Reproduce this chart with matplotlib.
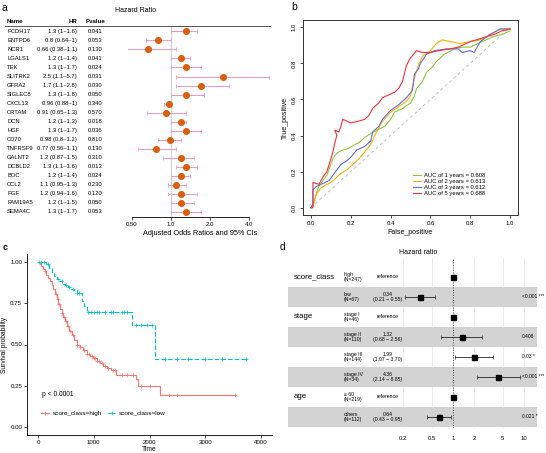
import numpy as np
import matplotlib
matplotlib.use("Agg")
import matplotlib.pyplot as plt
import matplotlib.transforms as mtransforms
from matplotlib.lines import Line2D
from matplotlib.ticker import NullLocator

plt.rcParams['font.family'] = ['Liberation Sans', 'DejaVu Sans']

W, H = 546, 453

# ---------------- panel a: univariate cox table
genes = ['PCDH17', 'ENTPD6', 'NCR1', 'LGALS1', 'TEK', 'SLITRK2', 'GFRA2', 'SIGLEC8',
         'CXCL13', 'CRTAM', 'DCN', 'HGF', 'CD70', 'TNFRSF9', 'GALNT2', 'DCBLD2',
         'BOC', 'CCL2', 'PGF', 'FAM19A5', 'SEMA4C']
hr = [1.3, 0.8, 0.66, 1.2, 1.3, 2.5, 1.7, 1.3, 0.96, 0.91, 1.2, 1.3, 0.98, 0.77,
      1.2, 1.3, 1.2, 1.1, 1.2, 1.2, 1.3]
hr_lo = [1, 0.64, 0.38, 1, 1, 1.1, 1.1, 1, 0.88, 0.65, 1, 1, 0.8, 0.56,
         0.87, 1.1, 1, 0.95, 0.94, 1, 1]
hr_hi = [1.6, 1, 1.1, 1.4, 1.7, 5.7, 2.8, 1.8, 1, 1.3, 1.3, 1.7, 1.2, 1.1,
         1.5, 1.6, 1.4, 1.3, 1.6, 1.5, 1.7]
pvals = ['0.041', '0.053', '0.130', '0.041', '0.024', '0.031', '0.030', '0.050',
         '0.340', '0.570', '0.018', '0.036', '0.810', '0.130', '0.310', '0.013',
         '0.024', '0.230', '0.120', '0.050', '0.053']

# ---------------- panel b: ROC curves
fpr_1y = [0, 0.01, 0.02, 0.03, 0.04, 0.06, 0.08, 0.09, 0.11, 0.12, 0.14, 0.16, 0.19,
          0.22, 0.24, 0.27, 0.30, 0.33, 0.37, 0.40, 0.42, 0.46, 0.50, 0.52, 0.53, 0.56,
          0.58, 0.61, 0.63, 0.67, 0.72, 0.76, 0.80, 0.84, 0.88, 0.92, 0.96, 1.0]
tpr_1y = [0, 0.01, 0.05, 0.09, 0.12, 0.15, 0.18, 0.21, 0.27, 0.29, 0.31, 0.32, 0.33,
          0.35, 0.36, 0.39, 0.41, 0.43, 0.45, 0.49, 0.53, 0.55, 0.58, 0.62, 0.66, 0.70,
          0.75, 0.78, 0.81, 0.85, 0.88, 0.89, 0.89, 0.91, 0.93, 0.95, 0.96, 0.98]
fpr_2y = [0, 0.01, 0.02, 0.03, 0.05, 0.08, 0.10, 0.13, 0.15, 0.18, 0.20, 0.22, 0.24,
          0.27, 0.30, 0.32, 0.34, 0.36, 0.40, 0.44, 0.48, 0.50, 0.51, 0.52, 0.54, 0.56,
          0.60, 0.63, 0.66, 0.70, 0.75, 0.80, 0.85, 0.90, 0.95, 1.0]
tpr_2y = [0, 0.01, 0.05, 0.08, 0.11, 0.13, 0.14, 0.17, 0.19, 0.21, 0.23, 0.25, 0.27,
          0.31, 0.35, 0.40, 0.44, 0.48, 0.53, 0.56, 0.59, 0.62, 0.67, 0.72, 0.79, 0.84,
          0.87, 0.91, 0.93, 0.92, 0.91, 0.92, 0.93, 0.96, 0.99, 0.99]
fpr_3y = [0, 0.01, 0.01, 0.03, 0.05, 0.07, 0.09, 0.11, 0.13, 0.15, 0.18, 0.20, 0.23,
          0.27, 0.30, 0.31, 0.34, 0.36, 0.40, 0.44, 0.48, 0.51, 0.52, 0.54, 0.55, 0.58,
          0.62, 0.68, 0.74, 0.76, 0.80, 0.82, 0.85, 0.90, 0.95, 1.0]
tpr_3y = [0, 0.02, 0.10, 0.12, 0.13, 0.14, 0.15, 0.18, 0.21, 0.24, 0.26, 0.28, 0.32,
          0.34, 0.37, 0.42, 0.45, 0.49, 0.54, 0.57, 0.61, 0.65, 0.74, 0.77, 0.80, 0.85,
          0.87, 0.88, 0.88, 0.86, 0.87, 0.86, 0.92, 0.96, 0.99, 0.99]
fpr_5y = [0, 0.01, 0.01, 0.04, 0.06, 0.08, 0.10, 0.11, 0.12, 0.13, 0.12, 0.14, 0.15,
          0.16, 0.18, 0.20, 0.24, 0.27, 0.29, 0.31, 0.34, 0.36, 0.38, 0.40, 0.42, 0.44,
          0.46, 0.48, 0.50, 0.53, 0.56, 0.60, 0.64, 0.70, 0.74, 0.80, 0.86, 0.92, 0.96, 1.0]
tpr_5y = [0, 0.0, 0.14, 0.13, 0.17, 0.20, 0.27, 0.31, 0.36, 0.40, 0.43, 0.42, 0.45,
          0.49, 0.48, 0.47, 0.48, 0.49, 0.51, 0.55, 0.58, 0.61, 0.62, 0.63, 0.64, 0.66,
          0.70, 0.79, 0.83, 0.87, 0.86, 0.86, 0.87, 0.88, 0.89, 0.92, 0.94, 0.96, 0.98, 0.99]
auc_labels = ['AUC of 1 years = 0.608', 'AUC of 2 years = 0.613',
              'AUC of 3 years = 0.612', 'AUC of 5 years = 0.688']
roc_colors = ['#8CC63F', '#FFB000', '#5B6EE1', '#F0303A']

# ---------------- panel c: Kaplan-Meier
km_high_t = [0, 30, 60, 90, 120, 150, 180, 210, 240, 270, 300, 330, 360, 390, 420, 450,
             480, 520, 560, 600, 650, 700, 750, 800, 870, 940, 990, 1050, 1110, 1170,
             1230, 1300, 1400, 1750, 1800, 2190]
km_high_s = [1.0, 0.99, 0.975, 0.96, 0.945, 0.925, 0.905, 0.885, 0.86, 0.835, 0.805,
             0.775, 0.745, 0.715, 0.69, 0.665, 0.64, 0.61, 0.58, 0.555, 0.525, 0.50,
             0.485, 0.465, 0.445, 0.43, 0.415, 0.40, 0.385, 0.37, 0.36, 0.345, 0.315,
             0.29, 0.25, 0.195]
km_high_end = 3530
km_high_cens = [130, 320, 350, 380, 420, 460, 500, 540, 580, 620, 700, 760, 820, 880, 920,
                960, 1000, 1020, 1060, 1100, 1150, 1200, 1260, 1340, 1380, 1500, 1600,
                1700, 1850, 2000, 2350, 2500, 3530]
km_low_t = [0, 150, 200, 240, 280, 330, 380, 430, 480, 530, 580, 640, 700, 780, 820, 870,
            1680, 2090]
km_low_s = [1.0, 0.99, 0.965, 0.94, 0.915, 0.90, 0.885, 0.87, 0.86, 0.85, 0.84, 0.83,
            0.815, 0.765, 0.735, 0.70, 0.62, 0.41]
km_low_end = 3740
km_low_cens = [20, 60, 100, 180, 350, 420, 500, 560, 620, 700, 740, 900, 950, 1000, 1050,
               1100, 1200, 1300, 1350, 1500, 1550, 1600, 1750, 1850, 1950, 2050, 2280,
               2500, 2700, 3000, 3300, 3730]

# ---------------- panel d: multivariate cox
d_vars = ['score_class', '', 'stage', '', '', '', 'age', '']
d_levels = ['high', 'low', 'stage I', 'stage II', 'stage III', 'stage IV', '\u2265 60', 'others']
d_n = [247, 67, 46, 110, 144, 34, 219, 112]
d_hr = [1, 0.34, 1, 1.32, 1.99, 4.36, 1, 0.64]
d_lo = [np.nan, 0.21, np.nan, 0.68, 1.07, 2.14, np.nan, 0.43]
d_hi = [np.nan, 0.55, np.nan, 2.56, 3.70, 8.85, np.nan, 0.95]
d_p = ['', '<0.001 ***', '', '0.408', '0.03 *', '<0.001 ***', '', '0.021 *']
d_ticks = [0.2, 0.5, 1, 2, 5, 10]


fig = plt.figure(figsize=(W / 100, H / 100), dpi=100)


def box(x0, y0, x1, y1):
    return [x0 / W, 1 - y1 / H, (x1 - x0) / W, (y1 - y0) / H]


def ftext(x, y, s, **kw):
    fig.text(x / W, 1 - y / H, s, **kw)


# ================= a
ax_a = fig.add_axes(box(128, 25.5, 272, 217))
ax_a.set_xscale('log', base=2)
ax_a.set_xlim(0.4657, 6.02)
ax_a.set_ylim(20.59, -0.66)
ya = np.arange(len(genes))
hr_a = np.array(hr)
ax_a.axvline(1, color='#c8c8c8', lw=0.6, zorder=1)
ax_a.errorbar(hr_a, ya, xerr=[hr_a - np.array(hr_lo), np.array(hr_hi) - hr_a], fmt='none',
              ecolor='#E996C8', elinewidth=0.7, capsize=1.4, capthick=0.6, zorder=2)
ax_a.scatter(hr_a, ya, s=26, color='#D95F0E', zorder=3, linewidths=0)
for s in ['top', 'right', 'left']:
    ax_a.spines[s].set_visible(False)
ax_a.spines['bottom'].set_bounds(0.5, 4)
ax_a.spines['bottom'].set_linewidth(0.6)
ax_a.set_yticks([])
ax_a.set_xticks([0.5, 1, 2, 4])
ax_a.set_xticklabels(['0.50', '1.0', '2.0', '4.0'])
ax_a.xaxis.set_minor_locator(NullLocator())
ax_a.tick_params(axis='x', labelsize=4.3, length=2, width=0.5, pad=1.5)
ax_a.set_xlabel('Adjusted Odds Ratios and 95% CIs', fontsize=5.3, labelpad=2.5)
ax_a.patch.set_alpha(0)

fig.add_artist(Line2D([5 / W, 270 / W], [1 - 25.5 / H] * 2, color='#555555', lw=0.7))
ta = mtransforms.blended_transform_factory(fig.transFigure, ax_a.transData)
for i in range(len(genes)):
    fig.text(7 / W, i, genes[i], transform=ta, va='center', fontsize=4.2)
    fig.text(77 / W, i, f'{hr[i]} ({hr_lo[i]}~{hr_hi[i]})', transform=ta, va='center',
             ha='right', fontsize=4.2)
    fig.text(95 / W, i, pvals[i], transform=ta, va='center', ha='center', fontsize=4.2)
ftext(7, 21.5, 'Name', fontsize=4.4, fontweight='bold', va='center')
ftext(77, 21.5, 'HR', fontsize=4.4, fontweight='bold', va='center', ha='right')
ftext(95, 21.5, 'Pvalue', fontsize=4.4, fontweight='bold', va='center', ha='center')
ftext(136, 11, 'Hazard Ratio', fontsize=5, va='center', ha='center')

# ================= b
ax_b = fig.add_axes(box(303, 20, 518, 215))
ax_b.set_xlim(-0.04, 1.04)
ax_b.set_ylim(-0.04, 1.04)
ax_b.plot([0, 1], [0, 1], ls=(0, (3, 3)), color='#c0c0c0', lw=0.7)
for fx, ty, c, lab in zip([fpr_1y, fpr_2y, fpr_3y, fpr_5y], [tpr_1y, tpr_2y, tpr_3y, tpr_5y],
                          roc_colors, auc_labels):
    ax_b.plot(fx, ty, color=c, lw=0.8, label=lab)
ax_b.set_xticks(np.linspace(0, 1, 6))
ax_b.set_yticks(np.linspace(0, 1, 6))
ax_b.set_xticklabels([f'{v:.1f}' for v in np.linspace(0, 1, 6)])
ax_b.set_yticklabels([f'{v:.1f}' for v in np.linspace(0, 1, 6)], rotation=90, va='center')
ax_b.tick_params(labelsize=4.3, length=2.5, width=0.5, pad=2)
for s in ax_b.spines.values():
    s.set_linewidth(0.7)
    s.set_color('#333333')
ax_b.set_xlabel('False_positive', fontsize=5, labelpad=2)
ax_b.set_ylabel('True_positive', fontsize=5, labelpad=2)
ax_b.legend(loc='upper left', bbox_to_anchor=(410 / W, 1 - 170 / H), bbox_transform=fig.transFigure,
            frameon=False, fontsize=4.2, handlelength=1.3, handletextpad=0.6, labelspacing=0.15,
            borderpad=0)

# ================= c
ax_c = fig.add_axes(box(27, 254, 272, 435))
ax_c.set_xlim(-200, 4200)
ax_c.set_ylim(-0.05, 1.05)
km_red, km_teal = '#F8766D', '#00BFC4'
for t, s, end, cens, col, ls in [(km_high_t, km_high_s, km_high_end, km_high_cens, km_red, '-'),
                                 (km_low_t, km_low_s, km_low_end, km_low_cens, km_teal, (0, (4, 2)))]:
    t = np.array(t)
    s = np.array(s)
    ax_c.step(np.r_[t, end], np.r_[s, s[-1]], where='post', color=col, lw=0.8, ls=ls)
    cy = s[np.searchsorted(t, cens, side='right') - 1]
    ax_c.plot(cens, cy, '+', color=col, ms=2.5, mew=0.5)
for sp in ['top', 'right']:
    ax_c.spines[sp].set_visible(False)
for sp in ['left', 'bottom']:
    ax_c.spines[sp].set_linewidth(0.6)
ax_c.set_xticks([0, 1000, 2000, 3000, 4000])
ax_c.set_yticks([0, 0.25, 0.5, 0.75, 1.0])
ax_c.set_yticklabels(['0.00', '0.25', '0.50', '0.75', '1.00'])
ax_c.tick_params(labelsize=4.4, length=2, width=0.5, pad=1.5)
ax_c.set_xlabel('Time', fontsize=4.8, labelpad=0.5)
ax_c.set_ylabel('Survival probability', fontsize=4.8, labelpad=1.5)
ax_c.text(70, 0.195, 'p < 0.0001', fontsize=4.8, va='center')
km_handles = [Line2D([], [], color=km_red, lw=0.8, marker='+', ms=2.5, mew=0.5),
              Line2D([], [], color=km_teal, lw=0.8, ls=(0, (3, 1.5)), marker='+', ms=2.5, mew=0.5)]
ax_c.legend(km_handles, ['score_class=high', 'score_class=low'], loc='center left',
            bbox_to_anchor=(38 / W, 1 - 413 / H), bbox_transform=fig.transFigure, ncol=2,
            frameon=False, fontsize=4.6, handlelength=1.2, handletextpad=0.6,
            columnspacing=0.9, borderpad=0)

# ================= d
ax_d = fig.add_axes(box(398, 258, 537, 428))
ax_d.set_xscale('log')
ax_d.set_xlim(0.168, 15.2)
ax_d.set_ylim(7.55, -0.95)
ax_d.patch.set_alpha(0)
ax_d.set_axisbelow(True)
for i in range(1, len(d_levels), 2):
    ax_d.axhspan(i - 0.5, i + 0.5, xmin=(288 - 398) / (537 - 398), xmax=1, color='#d3d3d3',
                 clip_on=False, zorder=0.6, lw=0)
yd = np.arange(len(d_levels))
hr_d = np.array(d_hr)
ax_d.axvline(1, ls=(0, (1.5, 1.5)), color='#555555', lw=0.6, zorder=1)
ax_d.errorbar(hr_d, yd, xerr=[hr_d - np.array(d_lo), np.array(d_hi) - hr_d], fmt='none',
              ecolor='#222222', elinewidth=0.6, capsize=1.3, capthick=0.5, zorder=2)
ax_d.plot(hr_d, yd, 's', color='black', ms=3.6, zorder=3)
for sp in ax_d.spines.values():
    sp.set_visible(False)
ax_d.set_xticks(d_ticks)
ax_d.set_xticklabels([f'{v:g}' for v in d_ticks])
ax_d.xaxis.set_minor_locator(NullLocator())
ax_d.set_yticks([])
ax_d.tick_params(axis='x', length=0, labelsize=4.3, pad=6)
ax_d.grid(axis='x', color='#e4e4e4', lw=0.5)

td = mtransforms.blended_transform_factory(fig.transFigure, ax_d.transData)
for i in range(len(d_levels)):
    if d_vars[i]:
        fig.text(294 / W, i, d_vars[i], transform=td, va='center', fontsize=5.6)
    fig.text(344 / W, i, f'{d_levels[i]}\n(N={d_n[i]})', transform=td, va='center',
             fontsize=3.7, linespacing=1.15)
    if np.isnan(d_lo[i]):
        est = 'reference'
    else:
        est = f'{d_hr[i]:.2f}\n({d_lo[i]:.2f} \u2212 {d_hi[i]:.2f})'
    fig.text(388 / W, i, est, transform=td, va='center', ha='center', fontsize=3.7,
             linespacing=1.15)
    if d_p[i]:
        fig.text(522 / W, i, d_p[i], transform=td, va='center', fontsize=3.5)
ftext(418, 253, 'Hazard ratio', fontsize=5, va='center', ha='center')

# panel letters
ftext(2, 8, 'a', fontsize=7.5, va='center')
ftext(291, 7, 'b', fontsize=7.5, va='center')
ftext(3, 247, 'c', fontsize=6.5, va='center', fontweight='bold')
ftext(280, 247, 'd', fontsize=7.5, va='center')

fig.savefig('out.png', dpi=100)
